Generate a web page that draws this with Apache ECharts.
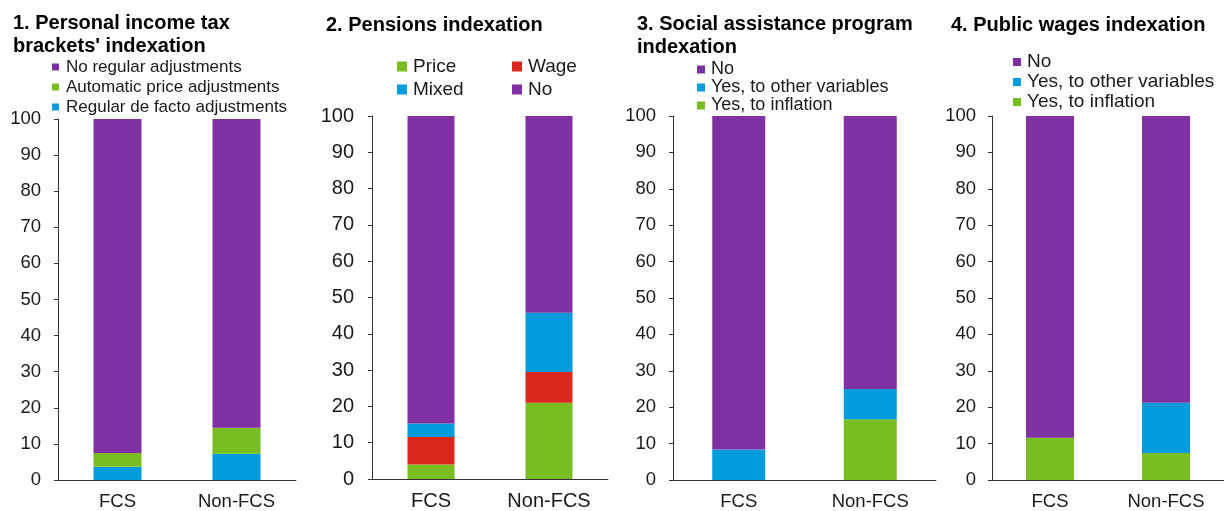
<!DOCTYPE html>
<html>
<head>
<meta charset="utf-8">
<script src="https://cdn.jsdelivr.net/npm/echarts@6/dist/echarts.min.js"></script>
<style>
html,body{margin:0;padding:0;background:#fff;}
#chart{width:1224px;height:511px;}
</style>
</head>
<body>
<div id="chart"></div>
<script>
// ---- Data ----
const categories = ['FCS', 'Non-FCS'];

// Panel 1: Personal income tax brackets' indexation
const p1Regular = [3.7, 7.3];     // Regular de facto adjustments
const p1Automatic = [3.8, 7.2];   // Automatic price adjustments
const p1NoRegular = [92.5, 85.5]; // No regular adjustments

// Panel 2: Pensions indexation
const p2Price = [4.0, 21.0];
const p2Wage = [7.6, 8.5];
const p2Mixed = [3.7, 16.3];
const p2No = [84.7, 54.2];

// Panel 3: Social assistance program indexation
const p3Inflation = [0, 16.7];
const p3Other = [8.4, 8.3];
const p3No = [91.6, 75.0];

// Panel 4: Public wages indexation
const p4Inflation = [11.6, 7.4];
const p4Other = [0, 13.8];
const p4No = [88.4, 78.8];

const panelTitles = [
  "1. Personal income tax\nbrackets' indexation",
  "2. Pensions indexation",
  "3. Social assistance program\nindexation",
  "4. Public wages indexation"
];

// ---- Styles ----
const PURPLE = '#7F31A3', GREEN = '#78BE20', BLUE = '#009CDE', RED = '#DA291C';
const FONT = '"Liberation Sans", Arial, sans-serif';
const TXT = '#1a1a1a';

const grids = [
  {left: 58, top: 119, width: 238, height: 362},
  {left: 372, top: 116, width: 236, height: 363},
  {left: 673, top: 116, width: 263, height: 365},
  {left: 992, top: 116, width: 240, height: 365}
];
const barWidths = [48, 47, 53, 48];
const labelSizes = [18.5, 20, 18.5, 18.5];
const yMargins = [17, 18, 17, 16];

const xAxes = grids.map((g, i) => ({
  type: 'category', gridIndex: i, data: categories,
  axisLine: {show: true, lineStyle: {color: '#333', width: 1}},
  axisTick: {show: false},
  axisLabel: {color: TXT, fontSize: labelSizes[i], fontFamily: FONT, margin: 12}
}));
const yAxes = grids.map((g, i) => ({
  type: 'value', gridIndex: i, min: 0, max: 100, interval: 10,
  axisLine: {show: true, lineStyle: {color: '#333', width: 1}},
  axisTick: {show: true, inside: false, length: 4, lineStyle: {color: '#333'}},
  splitLine: {show: false},
  axisLabel: {color: TXT, fontSize: labelSizes[i], fontFamily: FONT, margin: yMargins[i]}
}));

function bar(name, data, color, idx, stack) {
  return {
    name: name, type: 'bar', stack: stack, data: data,
    xAxisIndex: idx, yAxisIndex: idx, barWidth: barWidths[idx],
    itemStyle: {color: color}, emphasis: {disabled: true}, silent: true
  };
}

const series = [
  bar('Regular de facto adjustments', p1Regular, BLUE, 0, 's1'),
  bar('Automatic price adjustments', p1Automatic, GREEN, 0, 's1'),
  bar('No regular adjustments', p1NoRegular, PURPLE, 0, 's1'),
  bar('Price', p2Price, GREEN, 1, 's2'),
  bar('Wage', p2Wage, RED, 1, 's2'),
  bar('Mixed', p2Mixed, BLUE, 1, 's2'),
  bar('No', p2No, PURPLE, 1, 's2'),
  bar('Yes, to inflation', p3Inflation, GREEN, 2, 's3'),
  bar('Yes, to other variables', p3Other, BLUE, 2, 's3'),
  bar('No', p3No, PURPLE, 2, 's3'),
  bar('Yes, to inflation', p4Inflation, GREEN, 3, 's4'),
  bar('Yes, to other variables', p4Other, BLUE, 3, 's4'),
  bar('No', p4No, PURPLE, 3, 's4')
];

const titlePos = [{left: 13, top: 12}, {left: 326, top: 14}, {left: 637, top: 13}, {left: 951, top: 14}];
const titles = panelTitles.map((t, i) => ({
  text: t, left: titlePos[i].left, top: titlePos[i].top, padding: 0,
  textStyle: {fontSize: 20, fontWeight: 'bold', color: '#000', fontFamily: FONT, lineHeight: 23}
}));

function legend(names, left, top, fontSize, gap, mk, pad) {
  return {
    data: names.map(n => ({name: n, icon: 'rect'})),
    orient: 'vertical', left: left, top: top, padding: 0,
    itemWidth: mk, itemHeight: mk, itemGap: gap, selectedMode: false,
    textStyle: {fontSize: fontSize, lineHeight: fontSize, color: TXT, fontFamily: FONT, padding: [0, 0, 0, pad]}
  };
}

const legends = [
  legend(['No regular adjustments', 'Automatic price adjustments', 'Regular de facto adjustments'], 52, 58.5, 17, 3, 7, 2),
  legend(['Price', 'Mixed'], 397, 57, 19, 4, 10, 1),
  legend(['Wage', 'No'], 512, 57, 19, 4, 10, 1),
  legend(['No', 'Yes, to other variables', 'Yes, to inflation'], 697, 60.5, 18, 0, 8, 1),
  legend(['No', 'Yes, to other variables', 'Yes, to inflation'], 1013, 52.5, 19, 1, 8, 1)
];

const chart = echarts.init(document.getElementById('chart'), null, {renderer: 'canvas'});
chart.setOption({
  animation: false,
  backgroundColor: '#fff',
  title: titles,
  legend: legends,
  grid: grids,
  xAxis: xAxes,
  yAxis: yAxes,
  series: series
});
</script>
</body>
</html>
